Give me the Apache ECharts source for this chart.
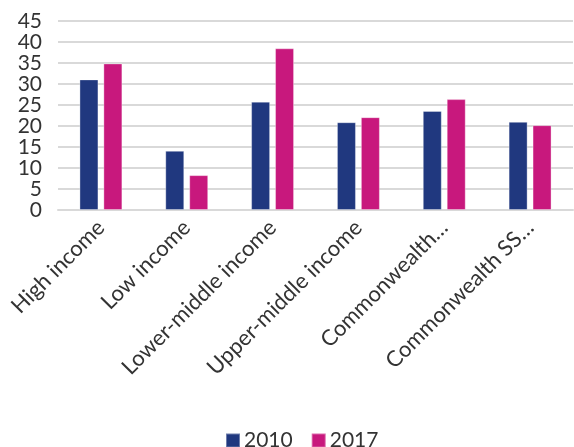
<!DOCTYPE html>
<html>
<head>
<meta charset="utf-8">
<script src="https://cdn.jsdelivr.net/npm/echarts@6/dist/echarts.min.js"></script>
<style>html,body{margin:0;padding:0;background:#fff;}#c{width:574px;height:447px;}</style>
</head>
<body>
<div id="c"></div>
<script>
var categories = ["High income", "Low income", "Lower-middle income", "Upper-middle income", "Commonwealth…", "Commonwealth SS…"];
var values2010 = [31.1, 14.1, 25.8, 20.9, 23.6, 21.0];
var values2017 = [34.9, 8.3, 38.5, 22.1, 26.4, 20.2];
var yTicks = [0, 5, 10, 15, 20, 25, 30, 35, 40, 45];

var chart = echarts.init(document.getElementById('c'), null, {renderer: 'canvas'});
var font = 'Lato, "Noto Sans", sans-serif';
chart.setOption({
  animation: false,
  textStyle: {fontFamily: font},
  grid: {left: 58, right: 1, top: 21, bottom: 237, containLabel: false},
  legend: {
    top: 430, left: 225, padding: 0,
    itemWidth: 14, itemHeight: 14, itemGap: 18,
    icon: 'rect',
    textStyle: {fontSize: 21, color: '#333', fontFamily: font, padding: [0, 0, 0, -1]},
    data: ['2010', '2017']
  },
  xAxis: {
    type: 'category',
    data: categories,
    axisLine: {lineStyle: {color: '#d9d9d9', width: 2}},
    axisTick: {show: false},
    axisLabel: {rotate: 45, fontSize: 22, color: '#333', margin: 14, interval: 0, fontFamily: font}
  },
  yAxis: {
    type: 'value',
    min: yTicks[0], max: yTicks[yTicks.length - 1], interval: 5,
    axisLine: {show: false},
    axisTick: {show: false},
    splitLine: {lineStyle: {color: '#d9d9d9', width: 2}},
    axisLabel: {fontSize: 21, color: '#333', margin: 16, fontFamily: font}
  },
  series: [
    {name: '2010', type: 'bar', data: values2010, barWidth: 19, barGap: '26%',
     itemStyle: {color: '#20387f', borderColor: 'rgba(255,255,255,0.35)', borderWidth: 1}},
    {name: '2017', type: 'bar', data: values2017, barWidth: 19,
     itemStyle: {color: '#c8187d', borderColor: 'rgba(255,255,255,0.35)', borderWidth: 1}}
  ]
});
</script>
</body>
</html>
